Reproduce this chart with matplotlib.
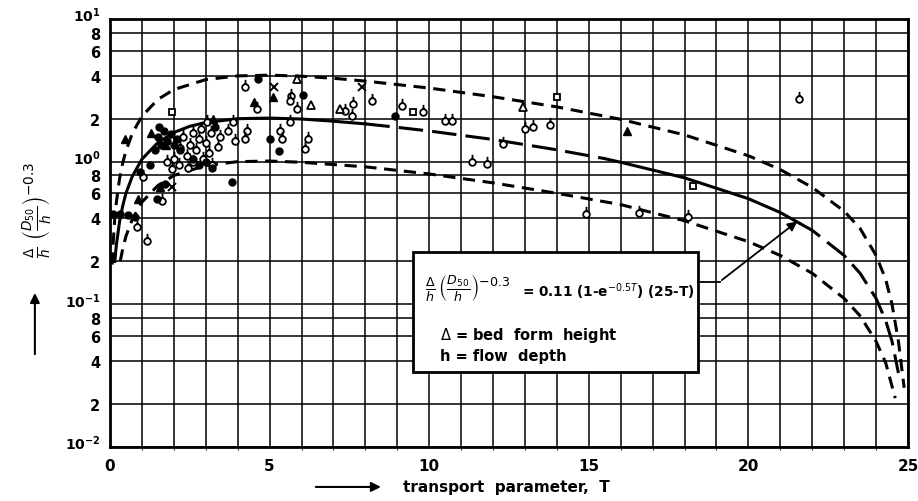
import numpy as np
import matplotlib
matplotlib.use("Agg")
import matplotlib.pyplot as plt
from matplotlib.path import Path
from matplotlib.patches import Rectangle, FancyArrowPatch
from matplotlib.transforms import ScaledTranslation

# curves (transport parameter T vs relative bed form height)
T_mid = [0.15, 0.2, 0.3, 0.4, 0.5, 0.7, 1, 1.5, 2, 2.5, 3, 4, 5, 6, 7, 8, 9, 10, 12, 14,
         15.5, 16, 18, 20, 21, 21.6, 22, 23, 23.5, 24, 24.3, 24.5, 24.7]
v_mid = [0.20, 0.26, 0.38, 0.49, 0.60, 0.79, 1.04, 1.36, 1.60, 1.77, 1.88, 2.00, 2.02, 1.99, 1.92,
         1.84, 1.74, 1.64, 1.43, 1.21, 1.05, 0.99, 0.77, 0.55, 0.44, 0.37, 0.33, 0.22, 0.165, 0.11,
         0.077, 0.055, 0.033]
T_up = [0.07, 0.1, 0.15, 0.2, 0.3, 0.4, 0.5, 0.7, 1, 1.5, 2, 3, 4, 5, 6, 7, 8, 10, 12, 14, 16,
        18, 20, 21, 22, 23, 23.5, 24, 24.3, 24.5, 24.7, 24.88]
v_up = [0.19, 0.27, 0.40, 0.52, 0.76, 0.98, 1.19, 1.58, 2.08, 2.73, 3.2, 3.76, 3.99, 4.04, 3.97,
        3.84, 3.67, 3.28, 2.85, 2.42, 1.98, 1.54, 1.1, 0.88, 0.66, 0.45, 0.34, 0.22, 0.15, 0.10,
        0.055, 0.026]
T_lo = [0.32, 0.4, 0.5, 0.7, 1, 1.5, 2, 3, 4, 5, 6, 8, 10, 12, 14, 16, 18, 20, 21, 22, 23, 23.5,
        24, 24.3, 24.6]
v_lo = [0.20, 0.245, 0.30, 0.395, 0.52, 0.68, 0.80, 0.94, 1.0, 1.01, 0.99, 0.92, 0.82, 0.71, 0.60,
        0.50, 0.385, 0.275, 0.22, 0.165, 0.11, 0.083, 0.055, 0.039, 0.022]

# measurements
T_open = [4.23, 5.66, 5.86, 4.6, 5.64, 5.64, 5.33, 5.39, 6.2, 6.1, 4.29, 4.23, 3.92, 3.7, 3.86,
          3.45, 3.39, 3.04, 8.2, 7.36, 7.6, 7.57, 9.15, 9.8, 10.5, 10.7, 13.0, 13.25, 13.8, 12.3,
          11.34, 11.8, 18.1, 16.57, 21.6, 14.9, 1.94, 1.03, 1.63, 0.84, 1.16,
          2.2, 2.4, 2.5, 2.6, 2.7, 2.8, 2.9, 3.0, 3.1, 3.2, 2.3, 2.6, 2.0, 2.15, 2.85, 3.15, 1.8, 2.45]
v_open = [3.34, 2.9, 2.33, 2.33, 2.66, 1.9, 1.64, 1.44, 1.44, 1.23, 1.64, 1.44, 1.40, 1.64, 1.9,
          1.5, 1.27, 1.9, 2.66, 2.26, 2.52, 2.09, 2.46, 2.23, 1.93, 1.93, 1.7, 1.74, 1.8, 1.33,
          1.0, 0.96, 0.41, 0.44, 2.75, 0.43, 0.89, 0.78, 0.53, 0.35, 0.28,
          1.25, 1.1, 1.3, 1.0, 1.2, 1.45, 1.05, 1.35, 1.15, 0.95, 1.5, 1.6, 1.05, 0.95, 1.7, 1.6, 1.0, 0.9]
T_dot = [6.05, 5.01, 5.3, 8.93, 3.82, 1.25, 0.94, 1.47, 1.72, 3.3, 3.2, 3.0, 2.8, 2.6, 0.1, 0.31,
         0.56, 0.78, 1.5, 1.6, 1.7, 1.8, 1.9, 2.0, 2.1, 1.55, 1.4, 2.2, 4.64]
v_dot = [2.94, 1.44, 1.18, 2.09, 0.72, 0.95, 0.84, 0.55, 0.7, 1.74, 0.9, 1.0, 0.95, 1.05, 0.43, 0.43,
         0.42, 0.41, 1.5, 1.3, 1.65, 1.4, 1.55, 1.3, 1.45, 1.75, 1.2, 1.2, 3.8]
T_tri_f = [0.47, 5.1, 4.5, 3.23, 16.2, 0.88, 1.57, 1.3, 1.75]
v_tri_f = [1.45, 2.84, 2.62, 2.0, 1.64, 0.55, 0.66, 1.6, 1.3]
T_tri_o = [5.85, 6.3, 7.2, 12.94]
v_tri_o = [3.8, 2.5, 2.35, 2.42]
T_sq = [1.94, 9.5, 14.0, 18.27]
v_sq = [2.23, 2.23, 2.84, 0.67]
T_x = [5.15, 7.9, 1.95]
v_x = [3.33, 3.33, 0.66]

y_ticks = [0.01, 0.02, 0.04, 0.06, 0.08, 0.1, 0.2, 0.4, 0.6, 0.8, 1, 2, 4, 6, 8, 10]
y_labels = [r'$\mathbf{10^{-2}}$', '2', '4', '6', '8', r'$\mathbf{10^{-1}}$', '2', '4', '6', '8',
            r'$\mathbf{10^{0}}$', '2', '4', '6', '8', r'$\mathbf{10^{1}}$']

fig = plt.figure(figsize=(9.18, 5.02), dpi=100)
ax = fig.add_axes([0.1198, 0.1076, 0.8693, 0.8526])
ax.set_yscale('log')
ax.set_xlim(0, 25)
ax.set_ylim(0.01, 10)

ax.set_xticks(range(0, 26, 5))
ax.set_xticks(range(26), minor=True)
ax.set_yticks(y_ticks)
ax.set_yticklabels(y_labels)
ax.yaxis.set_minor_locator(matplotlib.ticker.NullLocator())
ax.grid(True, which='both', color='black', lw=1.1)
ax.tick_params(length=0, labelsize=11, pad=8)
ax.tick_params(axis='y', pad=7)
for lab in ax.get_xticklabels() + ax.get_yticklabels():
    lab.set_fontweight('bold')
# decade labels sit a little above their line, as in the original
up = ScaledTranslation(0, 4 / 72, fig.dpi_scale_trans)
for lab in ax.get_yticklabels():
    if lab.get_text().startswith('$'):
        lab.set_fontsize(10)
        lab.set_transform(lab.get_transform() + up)
    else:
        lab.set_fontsize(10.5)
for s in ax.spines.values():
    s.set_linewidth(2)

# curves
T_mid = np.array(T_mid)
v_mid = np.array(v_mid)
seg_solid1 = T_mid <= 8
seg_dash1 = (T_mid >= 8) & (T_mid <= 15.5)
seg_solid2 = (T_mid >= 15.5) & (T_mid <= 21.6)
seg_dash2 = T_mid >= 21.6
ax.plot(T_mid[seg_solid1], v_mid[seg_solid1], color='black', lw=2.2)
ax.plot(T_mid[seg_dash1], v_mid[seg_dash1], color='black', lw=2.2, ls=(0, (8, 3)))
ax.plot(T_mid[seg_solid2], v_mid[seg_solid2], color='black', lw=2.2)
ax.plot(T_mid[seg_dash2], v_mid[seg_dash2], color='black', lw=2.2, ls=(0, (8, 3)))
ax.plot(T_up, v_up, color='black', lw=2.2, ls=(0, (4, 2.5)))
ax.plot(T_lo, v_lo, color='black', lw=2.2, ls=(0, (4, 2.5)))

# lollipop marker (circle with stem)
lolli = Path.make_compound_path(Path.unit_circle(),
                                Path([[0, 1], [0, 2.3]], [Path.MOVETO, Path.LINETO]))
ax.plot(T_open, v_open, ls='none', marker=lolli, ms=11, mfc='white', mec='black', mew=1.3, zorder=4)
ax.plot(T_dot, v_dot, ls='none', marker='o', ms=5, mfc='black', mec='black', zorder=4)
ax.plot(T_tri_f, v_tri_f, ls='none', marker='^', ms=5.5, mfc='black', mec='black', zorder=4)
ax.plot(T_tri_o, v_tri_o, ls='none', marker='^', ms=5.5, mfc='white', mec='black', mew=1.3, zorder=4)
ax.plot(T_sq, v_sq, ls='none', marker='s', ms=5, mfc='white', mec='black', mew=1.3, zorder=4)
ax.plot(T_x, v_x, ls='none', marker='x', ms=5.5, mec='black', mew=1.4, zorder=4)

# formula box
ax.add_patch(Rectangle((0.38, 0.175), 0.357, 0.281, transform=ax.transAxes,
                       facecolor='white', edgecolor='black', lw=2, zorder=6))
ax.text(0.395, 0.372,
        r'$\frac{\Delta}{h}\,\left(\frac{D_{50}}{h}\right)^{-0.3}$',
        transform=ax.transAxes, fontsize=13, va='center', zorder=7)
ax.text(0.516, 0.366, r'= 0.11 (1-e$^{-0.5T}$) (25-T)', transform=ax.transAxes,
        fontsize=9.8, fontweight='bold', va='center', zorder=7)
ax.text(0.413, 0.262, r'$\Delta$ = bed  form  height', transform=ax.transAxes,
        fontsize=10.5, fontweight='bold', va='center', zorder=7)
ax.text(0.413, 0.213, 'h = flow  depth', transform=ax.transAxes,
        fontsize=10.5, fontweight='bold', va='center', zorder=7)

# pointer from box to curve
ax.plot([0.737, 0.764], [0.386, 0.386], transform=ax.transAxes, color='black', lw=1.3, zorder=7)
ax.annotate('', xy=(0.864, 0.531), xytext=(0.764, 0.386), xycoords='axes fraction',
            arrowprops=dict(arrowstyle='-|>', color='black', lw=1.3, mutation_scale=14), zorder=7)

# axis labels
fig.text(0.040, 0.582, r'$\frac{\Delta}{h}\ \left(\frac{D_{50}}{h}\right)^{-0.3}$',
         rotation=90, fontsize=14, ha='center', va='center')
fig.add_artist(FancyArrowPatch((0.038, 0.287), (0.038, 0.42), transform=fig.transFigure,
                               arrowstyle='-|>', mutation_scale=14, lw=1.5, color='black'))
fig.text(0.439, 0.028, 'transport  parameter,  T', fontsize=11, fontweight='bold', va='center')
fig.add_artist(FancyArrowPatch((0.341, 0.028), (0.418, 0.028), transform=fig.transFigure,
                               arrowstyle='-|>', mutation_scale=14, lw=1.5, color='black'))

fig.savefig('out.png', dpi=100)
